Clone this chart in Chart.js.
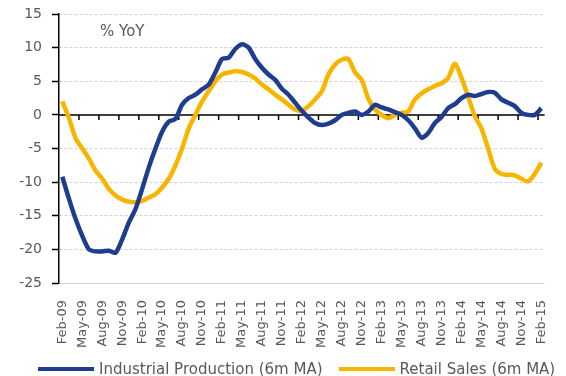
<!DOCTYPE html>
<html>
<head>
<meta charset="utf-8">
<script src="https://cdn.jsdelivr.net/npm/chart.js@4/dist/chart.umd.min.js"></script>
<style>
  html, body { margin: 0; padding: 0; background: #fff; }
  .chart-box { position: relative; width: 566px; height: 376px; }
  #legend {
    position: absolute; left: 38px; top: 359px; height: 20px;
    display: flex; align-items: center;
    font: 15px "DejaVu Sans", sans-serif; color: #595959; white-space: nowrap;
  }
  #legend .item { display: flex; align-items: center; margin-right: 16px; }
  #legend .swatch { width: 56px; height: 4px; margin-right: 5px; }
</style>
</head>
<body>
<div class="chart-box">
  <canvas id="myChart"></canvas>
  <div id="legend"></div>
</div>
<script>
// Months Feb-09 .. Feb-15
const months = [
  'Feb-09','Mar-09','Apr-09','May-09','Jun-09','Jul-09','Aug-09','Sep-09','Oct-09','Nov-09','Dec-09','Jan-10',
  'Feb-10','Mar-10','Apr-10','May-10','Jun-10','Jul-10','Aug-10','Sep-10','Oct-10','Nov-10','Dec-10','Jan-11',
  'Feb-11','Mar-11','Apr-11','May-11','Jun-11','Jul-11','Aug-11','Sep-11','Oct-11','Nov-11','Dec-11','Jan-12',
  'Feb-12','Mar-12','Apr-12','May-12','Jun-12','Jul-12','Aug-12','Sep-12','Oct-12','Nov-12','Dec-12','Jan-13',
  'Feb-13','Mar-13','Apr-13','May-13','Jun-13','Jul-13','Aug-13','Sep-13','Oct-13','Nov-13','Dec-13','Jan-14',
  'Feb-14','Mar-14','Apr-14','May-14','Jun-14','Jul-14','Aug-14','Sep-14','Oct-14','Nov-14','Dec-14','Jan-15',
  'Feb-15'
];

// Industrial Production (6m MA), % YoY
const industrialProduction = [
  -9.2, -12.5, -15.5, -18.0, -20.0, -20.3, -20.3, -20.2, -20.5, -18.5, -16.0, -14.0,
  -11.0, -7.8, -5.0, -2.5, -1.0, -0.6, 1.5, 2.5, 3.0, 3.8, 4.5, 6.3,
  8.3, 8.5, 9.8, 10.5, 10.0, 8.3, 7.0, 6.0, 5.2, 3.9, 3.0, 1.8,
  0.6, -0.4, -1.2, -1.5, -1.3, -0.8, 0.0, 0.3, 0.5, 0.0, 0.5, 1.5,
  1.1, 0.8, 0.4, 0.0, -0.8, -2.0, -3.4, -2.7, -1.2, -0.3, 1.0, 1.6,
  2.5, 3.0, 2.8, 3.1, 3.4, 3.3, 2.3, 1.8, 1.3, 0.3, 0.0, 0.0,
  1.0
];

// Retail Sales (6m MA), % YoY
const retailSales = [
  2.0, -0.5, -3.5, -5.0, -6.5, -8.3, -9.5, -11.0, -12.0, -12.6, -12.9, -13.0,
  -12.8, -12.3, -11.8, -10.8, -9.5, -7.5, -5.0, -2.0, 0.0, 2.0, 3.5, 5.0,
  6.0, 6.3, 6.5, 6.4, 6.0, 5.4, 4.5, 3.8, 3.0, 2.3, 1.5, 0.8,
  0.6, 1.3, 2.3, 3.5, 6.0, 7.5, 8.2, 8.3, 6.3, 5.2, 2.4, 0.8,
  0.0, -0.5, 0.0, 0.3, 0.5, 2.3, 3.2, 3.8, 4.3, 4.7, 5.5, 7.6,
  5.5, 2.7, -0.2, -2.0, -5.0, -8.0, -8.8, -8.9, -9.0, -9.5, -9.9, -8.8,
  -7.1
];

const yMin = -25;
const yMax = 15;
const yStep = 5;
const labelEvery = 3;

const textGrey = '#595959';
const blue = '#1f3d8f';
const gold = '#f7b500';
const fontFamily = 'DejaVu Sans';

// zero line with tick marks, plus the "% YoY" note
const zeroLinePlugin = {
  id: 'zeroLine',
  beforeDatasetsDraw(chart) {
    const { ctx, chartArea, scales: { x, y } } = chart;
    const y0 = y.getPixelForValue(0);
    const step = x.getPixelForValue(1) - x.getPixelForValue(0);
    ctx.save();
    ctx.strokeStyle = '#000';
    ctx.lineWidth = 1.5;
    ctx.beginPath();
    ctx.moveTo(chartArea.left, y0);
    ctx.lineTo(chartArea.right, y0);
    for (let i = labelEvery; i < months.length; i += labelEvery) {
      const px = x.getPixelForValue(i) - step / 2;
      ctx.moveTo(px, y0);
      ctx.lineTo(px, y0 + 5);
    }
    ctx.stroke();
    ctx.fillStyle = textGrey;
    ctx.font = '15px "' + fontFamily + '"';
    ctx.textBaseline = 'middle';
    ctx.fillText('% YoY', chartArea.left + 41, chartArea.top + 18);
    ctx.restore();
  }
};

// legend as html below the plot
const htmlLegendPlugin = {
  id: 'htmlLegend',
  afterUpdate(chart) {
    const box = document.getElementById('legend');
    box.innerHTML = '';
    chart.data.datasets.forEach(ds => {
      const item = document.createElement('span');
      item.className = 'item';
      const swatch = document.createElement('span');
      swatch.className = 'swatch';
      swatch.style.background = ds.borderColor;
      const text = document.createElement('span');
      text.textContent = ds.label;
      item.appendChild(swatch);
      item.appendChild(text);
      box.appendChild(item);
    });
  }
};

new Chart(document.getElementById('myChart'), {
  type: 'line',
  data: {
    labels: months,
    datasets: [
      {
        label: 'Industrial Production (6m MA)',
        data: industrialProduction,
        borderColor: blue,
        backgroundColor: blue,
        borderWidth: 4.5,
        pointRadius: 0,
        tension: 0.25,
        fill: false
      },
      {
        label: 'Retail Sales (6m MA)',
        data: retailSales,
        borderColor: gold,
        backgroundColor: gold,
        borderWidth: 4.5,
        pointRadius: 0,
        tension: 0.25,
        fill: false
      }
    ]
  },
  options: {
    responsive: true,
    maintainAspectRatio: false,
    animation: false,
    layout: { padding: { top: 14, right: 9, bottom: 0, left: 0 } },
    plugins: {
      tooltip: { enabled: false },
      legend: { display: false }
    },
    scales: {
      x: {
        offset: true,
        grid: { display: false },
        border: { display: false },
        ticks: {
          autoSkip: false,
          minRotation: 90,
          maxRotation: 90,
          padding: 9,
          color: textGrey,
          font: { family: fontFamily, size: 13 },
          callback(value, index) {
            return index % labelEvery === 0 ? months[index] : '';
          }
        },
        afterFit(scale) { scale.height = 93; }
      },
      y: {
        min: yMin,
        max: yMax,
        ticks: {
          stepSize: yStep,
          padding: 10,
          color: textGrey,
          font: { family: fontFamily, size: 14 }
        },
        grid: {
          color: ctx => (ctx.tick && ctx.tick.value === 0 ? 'rgba(0,0,0,0)' : '#d2d2d2'),
          lineWidth: 1,
          drawTicks: true,
          tickLength: 7,
          tickColor: '#000',
          tickWidth: 1.5
        },
        border: {
          display: true,
          color: '#000',
          width: 1.5,
          dash: ctx => (ctx.tick && ctx.tick.value !== yMin ? [3, 2] : [])
        },
        afterFit(scale) {
          scale.width = 59;
          scale.paddingTop = 0;
          scale.paddingBottom = 0;
        }
      }
    }
  },
  plugins: [zeroLinePlugin, htmlLegendPlugin]
});
</script>
</body>
</html>
